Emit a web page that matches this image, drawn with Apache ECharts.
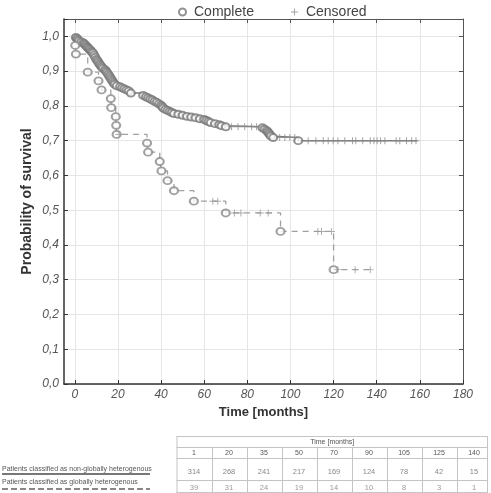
<!DOCTYPE html>
<html>
<head>
<meta charset="utf-8">
<script src="https://cdn.jsdelivr.net/npm/echarts@6/dist/echarts.min.js"></script>
<style>html,body{margin:0;padding:0;background:#fff;}#chart{width:491px;height:493px;}</style>
</head>
<body>
<div id="chart"></div>
<script>
// ---- Data ----
const xTicks = [0, 20, 40, 60, 80, 100, 120, 140, 160, 180];
const yTicks = [0, 0.1, 0.2, 0.3, 0.4, 0.5, 0.6, 0.7, 0.8, 0.9, 1.0];

// Non-globally heterogenous (solid)
const solidEventTimes = [0.5,1,1.5,2,3,4,4.5,5,5.5,6,6.5,7,7.5,8,8.5,9,9.5,10,10.5,11,11.5,12,12.5,13,14,14.5,15,15.5,16,16.5,17,17.5,18,18.5,19.5,21,22,23,24,25,26,31.7,33,34,35,36,37,38,39,40,40.5,41,42,43,44,45,46,48,50,52,54,56,58,60,61,62,63,65,67,68,70,87,88,89,89.5,90,90.5,91,92,103.6];
const solidEventSurv  = [0.997,0.994,0.990,0.987,0.984,0.981,0.978,0.975,0.971,0.968,0.965,0.962,0.958,0.955,0.952,0.946,0.940,0.934,0.930,0.925,0.920,0.916,0.912,0.908,0.904,0.900,0.896,0.891,0.886,0.881,0.876,0.871,0.866,0.862,0.858,0.855,0.852,0.849,0.846,0.843,0.837,0.830,0.826,0.823,0.820,0.817,0.813,0.810,0.806,0.802,0.798,0.794,0.790,0.787,0.784,0.781,0.778,0.776,0.773,0.770,0.768,0.766,0.763,0.761,0.758,0.755,0.752,0.749,0.746,0.743,0.740,0.737,0.733,0.729,0.725,0.721,0.717,0.713,0.709,0.700];
const solidCensorTimes = [72.7,75.7,78.8,82,84.3,95,97.4,99.7,102,108.2,111.8,115.2,117.5,119.8,122,125.2,128.8,130.3,133.5,137,138.7,140.2,141.8,143.8,149,150.7,153.8,156.2,158.2];
const solidEndTime = 158.8;

// Globally heterogenous (dashed)
const dashedEventTimes = [0.2,0.5,6,11,12.4,16.7,16.9,19,19.2,19.4,33.5,34,39.4,40.2,43,46,55.2,70,95.4,120];
const dashedEventSurv  = [0.974,0.949,0.897,0.872,0.846,0.821,0.795,0.769,0.744,0.718,0.693,0.667,0.640,0.613,0.585,0.556,0.526,0.492,0.439,0.329];
const dashedCensorTimes = [20.5,64,66.3,74,77,86,89.7,112.7,114.4,119,122,130,137];
const dashedEndTime = 137.5;

// Risk table
const riskTimes = [1, 20, 35, 50, 70, 90, 105, 125, 140];
const riskNonGlobal = [314, 268, 241, 217, 169, 124, 78, 42, 15];
const riskGlobal = [39, 31, 24, 19, 14, 10, 8, 3, 1];
const rowLabelNonGlobal = 'Patients classified as non-globally heterogenous';
const rowLabelGlobal = 'Patients classified as globally heterogenous';

// ---- helpers ----
function stepData(times, surv, end) {
  const d = [[0, 1]];
  for (let i = 0; i < times.length; i++) d.push([times[i], surv[i]]);
  d.push([end, surv[surv.length - 1]]);
  return d;
}
function survAt(times, surv, t) {
  let s = 1;
  for (let i = 0; i < times.length; i++) if (times[i] <= t) s = surv[i];
  return s;
}
const zip = (a, b) => a.map((v, i) => [v, b[i]]);
const censorPts = (ct, times, surv) => ct.map(t => [t, survAt(times, surv, t)]);

const plusPath = 'path://M4.3,0H5.7V10H4.3Z M0,4.3H10V5.7H0Z';
const fmt = v => v.toFixed(1).replace('.', ',');

// ---- table graphics ----
const tblLeft = 176.5, colW = 35, tblRight = 488;
const yTop = 436, yH1 = 447, yH2 = 458, yR1 = 480, yBot = 493;
const g = [];
const lineStyle = { stroke: '#c4c4c4', lineWidth: 1 };
function hl(x1, x2, y) { g.push({ type: 'line', shape: { x1, y1: y, x2, y2: y }, style: lineStyle, silent: true }); }
function vl(x, y1, y2) { g.push({ type: 'line', shape: { x1: x, y1, x2: x, y2 }, style: lineStyle, silent: true }); }
hl(tblLeft, tblRight, yTop + 0.5);
hl(tblLeft, tblRight, yH1 + 0.5);
hl(tblLeft, tblRight, yH2 + 0.5);
hl(tblLeft, tblRight, yR1 + 0.5);
hl(tblLeft, tblRight, yBot - 0.5);
vl(tblLeft + 0.5, yTop, yBot);
vl(tblRight - 0.5, yTop, yBot);
for (let k = 1; k < riskTimes.length; k++) vl(Math.round(tblLeft + colW * k) + 0.5, yH1, yBot);
const tfont = '7px "Liberation Sans", Arial, sans-serif';
const nfont = '7.5px "Liberation Sans", Arial, sans-serif';
g.push({ type: 'text', x: (tblLeft + tblRight) / 2, y: (yTop + yH1) / 2 + 1, style: { text: 'Time [months]', font: tfont, fill: '#555', align: 'center', verticalAlign: 'middle' } });
riskTimes.forEach((t, i) => {
  const cx = tblLeft + colW * (i + 0.5);
  g.push({ type: 'text', x: cx, y: (yH1 + yH2) / 2 + 1, style: { text: String(t), font: tfont, fill: '#555', align: 'center', verticalAlign: 'middle' } });
  g.push({ type: 'text', x: cx, y: 472, style: { text: String(riskNonGlobal[i]), font: nfont, fill: '#888', align: 'center', verticalAlign: 'middle' } });
  g.push({ type: 'text', x: cx, y: 488, style: { text: String(riskGlobal[i]), font: nfont, fill: '#9a9a9a', align: 'center', verticalAlign: 'middle' } });
});
g.push({ type: 'text', x: 2, y: 469, style: { text: rowLabelNonGlobal, font: tfont, fill: '#555', align: 'left', verticalAlign: 'middle' } });
g.push({ type: 'line', shape: { x1: 2, y1: 474, x2: 150, y2: 474 }, style: { stroke: '#777', lineWidth: 2 }, silent: true });
g.push({ type: 'text', x: 2, y: 482, style: { text: rowLabelGlobal, font: tfont, fill: '#555', align: 'left', verticalAlign: 'middle' } });
g.push({ type: 'line', shape: { x1: 2, y1: 489, x2: 150, y2: 489 }, style: { stroke: '#888', lineWidth: 2, lineDash: [6, 3] }, silent: true });

// ---- chart ----
const chart = echarts.init(document.getElementById('chart'), null, { renderer: 'canvas' });
const axisFont = { fontFamily: 'Liberation Sans', fontStyle: 'italic', fontSize: 12, color: '#555' };

const option = {
  animation: false,
  backgroundColor: '#fff',
  textStyle: { fontFamily: 'Liberation Sans' },
  legend: {
    data: ['Complete', 'Censored'],
    left: 173, top: 0,
    itemWidth: 7, itemHeight: 7, itemGap: 37,
    textStyle: { fontSize: 14, color: '#444', padding: [0, 0, 0, 3] },
    selectedMode: false
  },
  grid: { left: 64, top: 19, right: 28, bottom: 109, containLabel: false },
  xAxis: [{
    type: 'value', min: -5, max: 180,
    axisLine: { show: true, onZero: false, lineStyle: { color: '#333', width: 1.5 } },
    axisTick: { show: true, inside: true, length: 4, customValues: xTicks, lineStyle: { color: '#333' } },
    axisLabel: { customValues: xTicks, margin: 5, ...axisFont },
    splitLine: { show: true, lineStyle: { color: '#e6e6e6' } },
    name: 'Time [months]', nameLocation: 'middle', nameGap: 19,
    nameTextStyle: { fontSize: 13, fontWeight: 'bold', color: '#333' }
  }, {
    type: 'value', min: -5, max: 180, position: 'top',
    axisLine: { show: true, onZero: false, lineStyle: { color: '#555', width: 1 } },
    axisTick: { show: true, inside: true, length: 4, customValues: xTicks, lineStyle: { color: '#555' } },
    axisLabel: { show: false }, splitLine: { show: false }
  }],
  yAxis: [{
    type: 'value', min: 0, max: 1.05, interval: 0.1,
    axisLine: { show: true, onZero: false, lineStyle: { color: '#333', width: 1.5 } },
    axisTick: { show: true, inside: true, length: 4, lineStyle: { color: '#333' } },
    axisLabel: { margin: 5, ...axisFont, formatter: v => (v > 1.0001 ? '' : fmt(v)) },
    splitLine: { show: true, lineStyle: { color: '#e6e6e6' } },
    name: 'Probability of survival', nameLocation: 'middle', nameGap: 30, nameMoveOverlap: false,
    nameTextStyle: { fontSize: 14, fontWeight: 'bold', color: '#333' }
  }, {
    type: 'value', min: 0, max: 1.05, interval: 0.1, position: 'right',
    axisLine: { show: true, onZero: false, lineStyle: { color: '#555', width: 1 } },
    axisTick: { show: true, inside: true, length: 4, lineStyle: { color: '#555' } },
    axisLabel: { show: false }, splitLine: { show: false }
  }],
  series: [
    {
      name: 'nonGlobalLine', type: 'line', step: 'end', showSymbol: false, symbol: 'none',
      data: stepData(solidEventTimes, solidEventSurv, solidEndTime),
      lineStyle: { color: '#7a7a7a', width: 1.5 }, z: 3
    },
    {
      name: 'globalLine', type: 'line', step: 'end', showSymbol: false, symbol: 'none',
      data: stepData(dashedEventTimes, dashedEventSurv, dashedEndTime),
      lineStyle: { color: '#a0a0a0', width: 1.3, type: [6, 5] }, z: 3
    },
    {
      name: 'Complete', type: 'scatter', symbol: 'emptyCircle', symbolSize: [8, 7],
      data: zip(solidEventTimes, solidEventSurv),
      itemStyle: { color: '#777', borderColor: '#777', borderWidth: 1 }, z: 4
    },
    {
      name: 'Complete', type: 'scatter', symbol: 'emptyCircle', symbolSize: [8, 7],
      data: zip(dashedEventTimes, dashedEventSurv),
      itemStyle: { color: '#8a8a8a', borderColor: '#8a8a8a', borderWidth: 1 }, z: 4
    },
    {
      name: 'Censored', type: 'scatter', symbol: plusPath, symbolSize: 7,
      data: censorPts(solidCensorTimes, solidEventTimes, solidEventSurv),
      itemStyle: { color: '#8a8a8a' }, z: 4
    },
    {
      name: 'Censored', type: 'scatter', symbol: plusPath, symbolSize: 7,
      data: censorPts(dashedCensorTimes, dashedEventTimes, dashedEventSurv),
      itemStyle: { color: '#9a9a9a' }, z: 4
    }
  ],
  graphic: g
};
chart.setOption(option);
</script>
</body>
</html>
